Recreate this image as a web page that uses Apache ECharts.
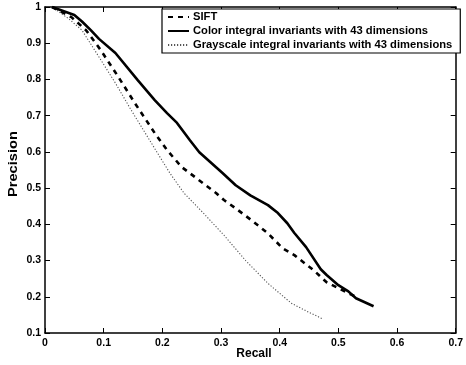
<!DOCTYPE html>
<html>
<head>
<meta charset="utf-8">
<script src="https://cdn.jsdelivr.net/npm/echarts@6/dist/echarts.min.js"></script>
<style>
  html, body { margin: 0; padding: 0; background: #fff; }
  #chart { width: 466px; height: 365px; }
</style>
</head>
<body>
<div id="chart"></div>
<script>
// Precision-recall curves for three descriptors
const siftRecall = [0.012, 0.045, 0.07, 0.095, 0.125, 0.153, 0.187, 0.208, 0.233, 0.247, 0.292, 0.305, 0.325, 0.353, 0.38, 0.405, 0.425, 0.458, 0.48, 0.5, 0.517, 0.53];
const siftPrecision = [1.0, 0.972, 0.936, 0.881, 0.807, 0.735, 0.652, 0.605, 0.558, 0.541, 0.486, 0.467, 0.444, 0.41, 0.375, 0.334, 0.315, 0.273, 0.24, 0.224, 0.21, 0.2];

const colorRecall = [0.012, 0.05, 0.063, 0.078, 0.092, 0.12, 0.158, 0.187, 0.208, 0.225, 0.247, 0.263, 0.303, 0.325, 0.35, 0.38, 0.397, 0.413, 0.425, 0.445, 0.47, 0.48, 0.5, 0.517, 0.53, 0.545, 0.56];
const colorPrecision = [1.0, 0.978, 0.96, 0.936, 0.912, 0.873, 0.798, 0.743, 0.707, 0.68, 0.632, 0.599, 0.541, 0.508, 0.48, 0.453, 0.431, 0.403, 0.376, 0.337, 0.276, 0.26, 0.232, 0.215, 0.196, 0.185, 0.174];

const grayRecall = [0.012, 0.04, 0.063, 0.092, 0.12, 0.147, 0.175, 0.197, 0.213, 0.237, 0.27, 0.305, 0.342, 0.38, 0.42, 0.45, 0.472];
const grayPrecision = [1.0, 0.968, 0.936, 0.862, 0.79, 0.715, 0.641, 0.583, 0.541, 0.486, 0.431, 0.37, 0.3, 0.237, 0.182, 0.157, 0.14];

const seriesNames = [
  'SIFT',
  'Color integral invariants with 43 dimensions',
  'Grayscale integral invariants with 43 dimensions'
];

const xTicks = { min: 0, max: 0.7, step: 0.1 };
const yTicks = { min: 0.1, max: 1, step: 0.1 };

const FONT = '"Liberation Sans", Arial, Helvetica, sans-serif';

function pairs(xs, ys) {
  return xs.map((x, i) => [x, ys[i]]);
}

function tickLabel(v) {
  const r = Math.round(v * 10) / 10;
  return r === 0 ? '0' : r === 1 ? '1' : String(r);
}

const labelStyle = {
  color: '#000',
  fontFamily: FONT,
  fontWeight: 'bold',
  fontSize: 10.5
};

const frameLine = { show: true, onZero: false, lineStyle: { color: '#000', width: 1.5 } };
const innerTick = { show: true, inside: true, length: 5, lineStyle: { color: '#000', width: 1 } };

const chart = echarts.init(document.getElementById('chart'), null, { renderer: 'canvas' });

chart.setOption({
  animation: false,
  backgroundColor: '#fff',
  grid: { left: 45, right: 3, top: 7, bottom: 32, containLabel: false },
  xAxis: [
    {
      type: 'value', position: 'bottom',
      min: xTicks.min, max: xTicks.max, interval: xTicks.step,
      axisLine: frameLine, axisTick: innerTick,
      splitLine: { show: false },
      axisLabel: Object.assign({
        margin: 5, formatter: tickLabel, showMaxLabel: true,
        alignMinLabel: 'center', alignMaxLabel: 'center', hideOverlap: false
      }, labelStyle)
    },
    {
      type: 'value', position: 'top',
      min: xTicks.min, max: xTicks.max, interval: xTicks.step,
      axisLine: frameLine, axisTick: innerTick,
      splitLine: { show: false }, axisLabel: { show: false }
    }
  ],
  yAxis: [
    {
      type: 'value', position: 'left',
      min: yTicks.min, max: yTicks.max, interval: yTicks.step,
      axisLine: frameLine, axisTick: innerTick,
      splitLine: { show: false },
      axisLabel: Object.assign({ margin: 4, formatter: tickLabel }, labelStyle)
    },
    {
      type: 'value', position: 'right',
      min: yTicks.min, max: yTicks.max, interval: yTicks.step,
      axisLine: frameLine, axisTick: innerTick,
      splitLine: { show: false }, axisLabel: { show: false }
    }
  ],
  legend: {
    orient: 'vertical',
    left: 162, top: 9,
    padding: [2, 8, 2, 5],
    itemWidth: 21, itemHeight: 12, itemGap: 2,
    itemStyle: { opacity: 0 },
    backgroundColor: '#fff',
    borderColor: '#000', borderWidth: 1.2, borderRadius: 0,
    textStyle: { color: '#000', fontFamily: FONT, fontWeight: 'bold', fontSize: 11.2, lineHeight: 12, padding: [0, 0, 0, -1] },
    data: seriesNames
  },
  graphic: [
    {
      type: 'text', x: 254, y: 348,
      style: { text: 'Recall', fill: '#000', font: 'bold 12px ' + FONT, align: 'center', verticalAlign: 'top' }
    },
    {
      type: 'text', rotation: Math.PI / 2, x: 8, y: 197, scaleX: 1.22,
      style: { text: 'Precision', fill: '#000', font: 'bold 12px ' + FONT, verticalAlign: 'top' }
    }
  ],
  series: [
    {
      name: seriesNames[0], type: 'line', symbol: 'none', z: 3,
      data: pairs(siftRecall, siftPrecision),
      itemStyle: { color: '#000' },
      lineStyle: { color: '#000', width: 2.6, type: [5, 5] }
    },
    {
      name: seriesNames[1], type: 'line', symbol: 'none', z: 4,
      data: pairs(colorRecall, colorPrecision),
      itemStyle: { color: '#000' },
      lineStyle: { color: '#000', width: 2.6, type: 'solid' }
    },
    {
      name: seriesNames[2], type: 'line', symbol: 'none', z: 2,
      data: pairs(grayRecall, grayPrecision),
      itemStyle: { color: '#555' },
      lineStyle: { color: '#555', width: 1.1, type: [1.2, 1.8] }
    }
  ]
});
</script>
</body>
</html>
